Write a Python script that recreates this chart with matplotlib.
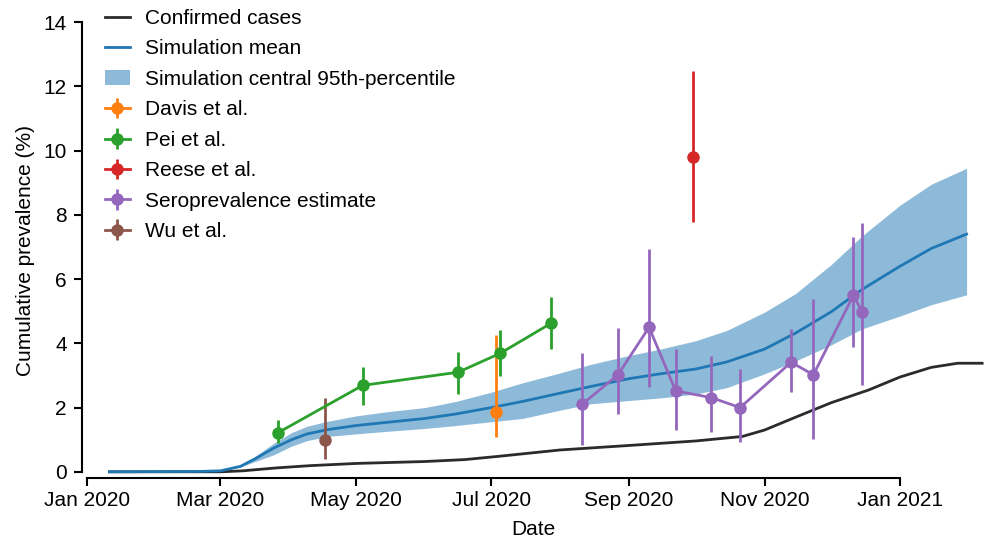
import numpy as np
import pandas as pd
from matplotlib import pyplot as plt
import matplotlib.dates as mdates

plt.rcParams['font.family'] = ['Liberation Sans', 'DejaVu Sans']
plt.rcParams['font.size'] = 15

# Simulation mean and central 95th-percentile band
sim_dates = ['2020-01-11', '2020-02-20', '2020-03-01', '2020-03-10', '2020-03-17',
             '2020-03-25', '2020-04-02', '2020-04-09', '2020-04-18', '2020-05-01',
             '2020-05-15', '2020-06-01', '2020-06-15', '2020-07-01', '2020-07-15',
             '2020-08-01', '2020-08-15', '2020-09-01', '2020-09-15', '2020-10-01',
             '2020-10-15', '2020-11-01', '2020-11-15', '2020-12-01', '2020-12-15',
             '2021-01-01', '2021-01-15', '2021-01-31']
sim_mean = [0.0, 0.01, 0.03, 0.17, 0.42, 0.74, 1.0, 1.18, 1.31, 1.44, 1.54, 1.66,
            1.80, 2.00, 2.19, 2.45, 2.66, 2.90, 3.05, 3.20, 3.42, 3.82, 4.32, 4.98,
            5.68, 6.40, 6.95, 7.40]
sim_low = [0.0, 0.01, 0.03, 0.15, 0.33, 0.53, 0.80, 0.97, 1.10, 1.18, 1.26, 1.35,
           1.44, 1.56, 1.66, 1.92, 2.12, 2.22, 2.30, 2.42, 2.62, 3.05, 3.45, 3.95,
           4.45, 4.85, 5.20, 5.51]
sim_high = [0.0, 0.01, 0.03, 0.20, 0.50, 0.89, 1.22, 1.42, 1.57, 1.74, 1.87, 2.00,
            2.19, 2.48, 2.77, 3.08, 3.35, 3.62, 3.82, 4.08, 4.40, 4.97, 5.55, 6.45,
            7.35, 8.30, 8.95, 9.45]

# Confirmed cases
case_dates = ['2020-01-11', '2020-03-01', '2020-03-11', '2020-03-26', '2020-04-10',
              '2020-05-01', '2020-06-01', '2020-06-19', '2020-07-04', '2020-08-01',
              '2020-09-01', '2020-10-01', '2020-10-22', '2020-11-01', '2020-11-15',
              '2020-12-01', '2020-12-18', '2021-01-01', '2021-01-15', '2021-01-27',
              '2021-02-07']
case_vals = [0.0, 0.0, 0.03, 0.12, 0.19, 0.26, 0.32, 0.38, 0.48, 0.68, 0.82, 0.96,
             1.10, 1.30, 1.70, 2.15, 2.55, 2.95, 3.25, 3.38, 3.38]

# Serology studies: date, estimate, lower, upper
davis_dates = ['2020-07-03']
davis_vals = [1.85]
davis_lo = [1.08]
davis_hi = [4.26]

pei_dates = ['2020-03-27', '2020-05-04', '2020-06-16', '2020-07-05', '2020-07-28']
pei_vals = [1.22, 2.69, 3.10, 3.69, 4.63]
pei_lo = [0.89, 2.08, 2.43, 2.99, 3.83]
pei_hi = [1.62, 3.26, 3.73, 4.40, 5.45]

reese_dates = ['2020-09-30']
reese_vals = [9.79]
reese_lo = [7.79]
reese_hi = [12.49]

sero_dates = ['2020-08-11', '2020-08-27', '2020-09-10', '2020-09-22', '2020-10-08',
              '2020-10-21', '2020-11-13', '2020-11-23', '2020-12-11', '2020-12-15']
sero_vals = [2.11, 3.02, 4.50, 2.52, 2.31, 2.00, 3.41, 3.02, 5.49, 4.99]
sero_lo = [0.82, 1.80, 2.63, 1.31, 1.25, 0.92, 2.47, 1.03, 3.90, 2.71]
sero_hi = [3.69, 4.47, 6.94, 3.82, 3.59, 3.19, 4.44, 5.37, 7.32, 7.76]

wu_dates = ['2020-04-17']
wu_vals = [1.00]
wu_lo = [0.40]
wu_hi = [2.29]

fig = plt.figure(figsize=(9.87, 5.40), dpi=100)
ax = fig.add_axes([0.083, 0.115, 0.915, 0.844])

sd = pd.to_datetime(sim_dates)
ax.plot(pd.to_datetime(case_dates), case_vals, color='#2b2b2b', lw=2, label='Confirmed cases', zorder=3)
ax.plot(sd, sim_mean, color='tab:blue', lw=2, label='Simulation mean', zorder=3)
ax.fill_between(sd, sim_low, sim_high, color='tab:blue', alpha=0.5, lw=0,
                label='Simulation central 95th-percentile', zorder=2)

studies = [('Davis et al.', davis_dates, davis_vals, davis_lo, davis_hi, 'tab:orange'),
           ('Pei et al.', pei_dates, pei_vals, pei_lo, pei_hi, 'tab:green'),
           ('Reese et al.', reese_dates, reese_vals, reese_lo, reese_hi, 'tab:red'),
           ('Seroprevalence estimate', sero_dates, sero_vals, sero_lo, sero_hi, 'tab:purple'),
           ('Wu et al.', wu_dates, wu_vals, wu_lo, wu_hi, 'tab:brown')]
for name, d, v, lo, hi, c in studies:
    v = np.array(v)
    yerr = [v - np.array(lo), np.array(hi) - v]
    ax.errorbar(pd.to_datetime(d), v, yerr=yerr, color=c, marker='o', ms=8,
                ls='-', lw=2, elinewidth=2, capsize=0, label=name, zorder=4)

x0 = mdates.date2num(pd.Timestamp('2020-01-01'))
ax.set_xlim(x0 - 2.4, x0 + 404.3)
ax.set_ylim(-0.19, 14)
ax.xaxis.set_major_locator(mdates.MonthLocator(bymonth=[1, 3, 5, 7, 9, 11]))
ax.xaxis.set_major_formatter(mdates.DateFormatter('%b %Y'))
ax.set_yticks(np.arange(0, 15, 2))
ax.spines['top'].set_visible(False)
ax.spines['right'].set_visible(False)
ax.spines['left'].set_bounds(0, 14)
ax.spines['bottom'].set_bounds(x0, x0 + 366)
for s in ['left', 'bottom']:
    ax.spines[s].set_linewidth(1.5)
ax.tick_params(width=1.5, length=6)
ax.tick_params(axis='y', pad=5)
ax.set_xlabel('Date', labelpad=7)
ax.set_ylabel('Cumulative prevalence (%)', labelpad=6)

ax.legend(loc='upper left', bbox_to_anchor=(0.0045, 1.07), frameon=False,
          handlelength=1.2, handletextpad=0.75, labelspacing=0.55)

plt.savefig('out.png', dpi=100)
